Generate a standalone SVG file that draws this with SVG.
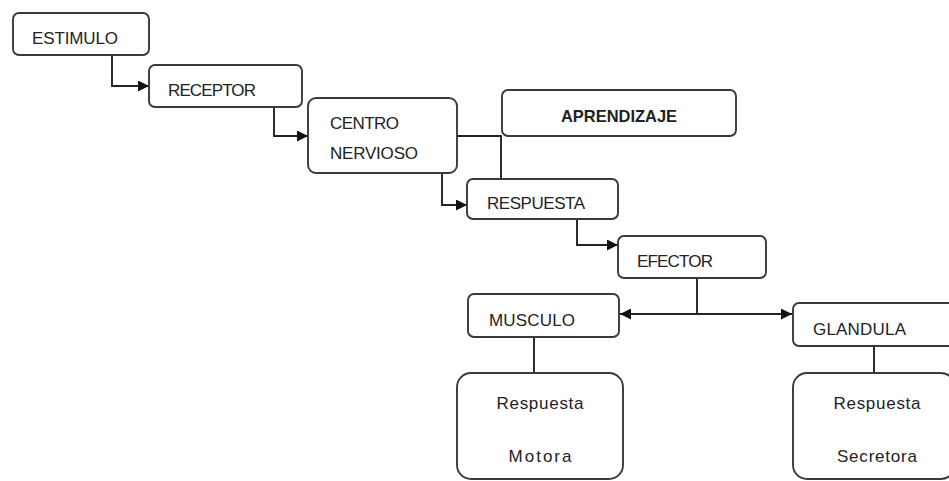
<svg xmlns="http://www.w3.org/2000/svg" width="949" height="481" viewBox="0 0 949 481">
  <style>
    .box { fill: #ffffff; stroke: #3a3a3a; stroke-width: 1.9; }
    .lbl { font-family: "Liberation Sans", Arial, sans-serif; font-size: 17px; fill: #222222; }
    .bold { font-weight: bold; }
    .mid { text-anchor: middle; }
    .wire { fill: none; stroke: #222222; stroke-width: 1.9; }
  </style>
  <defs>
    <marker id="arrow" viewBox="0 0 10 10" refX="10" refY="5" markerWidth="11" markerHeight="11" markerUnits="userSpaceOnUse" orient="auto-start-reverse">
      <path d="M0,0 L10,5 L0,10 Z" fill="#111111"/>
    </marker>
  </defs>
  <rect width="949" height="481" fill="#ffffff"/>

  <g id="connectors">
    <polyline class="wire" points="112,55 112,86 149,86" marker-end="url(#arrow)"/>
    <polyline class="wire" points="274,107 274,136 308,136" marker-end="url(#arrow)"/>
    <polyline class="wire" points="457,136 501,136 501,179"/>
    <polyline class="wire" points="442,173 442,205 467,205" marker-end="url(#arrow)"/>
    <polyline class="wire" points="577,219 577,245 618,245" marker-end="url(#arrow)"/>
    <line class="wire" x1="697" y1="278" x2="697" y2="314"/>
    <line class="wire" x1="620" y1="314" x2="792" y2="314" marker-start="url(#arrow)" marker-end="url(#arrow)"/>
    <line class="wire" x1="534" y1="337" x2="534" y2="373"/>
    <line class="wire" x1="874" y1="346" x2="874" y2="373"/>
  </g>

  <g id="estimulo">
    <rect class="box" x="13" y="13" width="136" height="42" rx="6"/>
    <text class="lbl" x="32" y="44" textLength="86" lengthAdjust="spacing">ESTIMULO</text>
  </g>
  <g id="receptor">
    <rect class="box" x="149" y="65" width="153" height="42" rx="6"/>
    <text class="lbl" x="168" y="96" textLength="88" lengthAdjust="spacing">RECEPTOR</text>
  </g>
  <g id="centro-nervioso">
    <rect class="box" x="308" y="98" width="149" height="75" rx="8"/>
    <text class="lbl" x="330" y="129" textLength="69" lengthAdjust="spacing">CENTRO</text>
    <text class="lbl" x="330" y="159" textLength="88" lengthAdjust="spacing">NERVIOSO</text>
  </g>
  <g id="aprendizaje">
    <rect class="box" x="502" y="90" width="234" height="46" rx="6"/>
    <text class="lbl bold" x="561" y="122" textLength="116" lengthAdjust="spacingAndGlyphs">APRENDIZAJE</text>
  </g>
  <g id="respuesta">
    <rect class="box" x="467" y="179" width="151" height="40" rx="6"/>
    <text class="lbl" x="487" y="209" textLength="98" lengthAdjust="spacing">RESPUESTA</text>
  </g>
  <g id="efector">
    <rect class="box" x="618" y="236" width="148" height="42" rx="6"/>
    <text class="lbl" x="637" y="267" textLength="76" lengthAdjust="spacing">EFECTOR</text>
  </g>
  <g id="musculo">
    <rect class="box" x="468" y="294" width="151" height="43" rx="6"/>
    <text class="lbl" x="489" y="326" textLength="86" lengthAdjust="spacing">MUSCULO</text>
  </g>
  <g id="glandula">
    <rect class="box" x="793" y="303" width="170" height="43" rx="6"/>
    <text class="lbl" x="813" y="335" textLength="93" lengthAdjust="spacing">GLANDULA</text>
  </g>
  <g id="respuesta-motora">
    <rect class="box" x="457" y="373" width="166" height="106" rx="14"/>
    <text class="lbl mid" x="540" y="409" textLength="87" lengthAdjust="spacing">Respuesta</text>
    <text class="lbl mid" x="540" y="462" textLength="63" lengthAdjust="spacing">Motora</text>
  </g>
  <g id="respuesta-secretora">
    <rect class="box" x="793" y="373" width="162" height="106" rx="14"/>
    <text class="lbl mid" x="877" y="409" textLength="87" lengthAdjust="spacing">Respuesta</text>
    <text class="lbl mid" x="877" y="462" textLength="80" lengthAdjust="spacing">Secretora</text>
  </g>
</svg>
